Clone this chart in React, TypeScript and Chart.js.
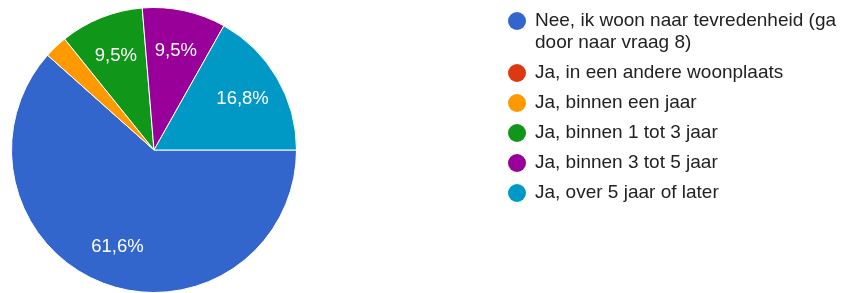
import React, { useEffect, useRef } from "react";
import { Chart, registerables } from "chart.js";

Chart.register(...registerables);

const categories = [
  "Nee, ik woon naar tevredenheid (ga door naar vraag 8)",
  "Ja, in een andere woonplaats",
  "Ja, binnen een jaar",
  "Ja, binnen 1 tot 3 jaar",
  "Ja, binnen 3 tot 5 jaar",
  "Ja, over 5 jaar of later",
];
const counts = [117, 0, 5, 18, 18, 32];
const colors = ["#3366cc", "#dc3912", "#ff9900", "#109618", "#990099", "#0099c6"];

const FONT = '"Liberation Sans", Arial, sans-serif';

const sliceLabels = {
  id: "sliceLabels",
  afterDatasetsDraw(chart: any) {
    const ctx = chart.ctx;
    const meta = chart.getDatasetMeta(0);
    const data = chart.data.datasets[0].data as number[];
    const total = data.reduce((a, b) => a + b, 0);
    ctx.save();
    ctx.fillStyle = "#ffffff";
    ctx.font = `18.5px ${FONT}`;
    ctx.textAlign = "center";
    ctx.textBaseline = "middle";
    meta.data.forEach((arc: any, i: number) => {
      const pct = data[i] / total;
      if (pct < 0.05) return;
      const p = arc.getProps(["x", "y", "startAngle", "endAngle", "outerRadius"], true);
      const mid = (p.startAngle + p.endAngle) / 2;
      const r = p.outerRadius * 0.72;
      const text = (pct * 100).toFixed(1).replace(".", ",") + "%";
      ctx.fillText(text, p.x + Math.cos(mid) * r, p.y + Math.sin(mid) * r + 1);
    });
    ctx.restore();
  },
};

const sideLegend = {
  id: "sideLegend",
  afterDraw(chart: any) {
    const ctx = chart.ctx;
    const labels = chart.data.labels as string[];
    const bg = chart.data.datasets[0].backgroundColor as string[];
    const dotX = 517;
    const textX = 535;
    const maxW = chart.width - textX - 2;
    const lineH = 22;
    const gap = 8;
    let y = 20;
    ctx.save();
    ctx.font = `19px ${FONT}`;
    ctx.textBaseline = "middle";
    ctx.textAlign = "left";
    labels.forEach((label, i) => {
      const words = label.split(" ");
      const lines: string[] = [];
      let cur = "";
      words.forEach((w) => {
        const t = cur ? cur + " " + w : w;
        if (ctx.measureText(t).width > maxW && cur) {
          lines.push(cur);
          cur = w;
        } else cur = t;
      });
      if (cur) lines.push(cur);
      ctx.fillStyle = bg[i];
      ctx.beginPath();
      ctx.arc(dotX, y + 1, 9, 0, Math.PI * 2);
      ctx.fill();
      ctx.fillStyle = "#222222";
      lines.forEach((ln, k) => {
        ctx.fillText(ln, textX, y + k * lineH + 1);
      });
      y += lines.length * lineH + gap;
    });
    ctx.restore();
  },
};

export default function App() {
  const ref = useRef<HTMLCanvasElement>(null);
  useEffect(() => {
    const chart = new Chart(ref.current!, {
      type: "pie",
      data: {
        labels: categories,
        datasets: [
          {
            data: counts,
            backgroundColor: colors,
            borderColor: "#ffffff",
            borderWidth: 1,
            hoverOffset: 0,
            offset: 0,
          },
        ],
      },
      options: {
        responsive: false,
        animation: false,
        events: [],
        rotation: 90,
        layout: { padding: { left: 11, right: 544, top: 7, bottom: 0 } },
        plugins: {
          legend: { display: false },
          tooltip: { enabled: false },
        },
      },
      plugins: [sliceLabels, sideLegend],
    });
    return () => chart.destroy();
  }, []);
  return (
    <div style={{ position: "absolute", left: 0, top: 0, width: 841, height: 293, background: "#fff" }}>
      <canvas ref={ref} width={841} height={293} />
    </div>
  );
}
